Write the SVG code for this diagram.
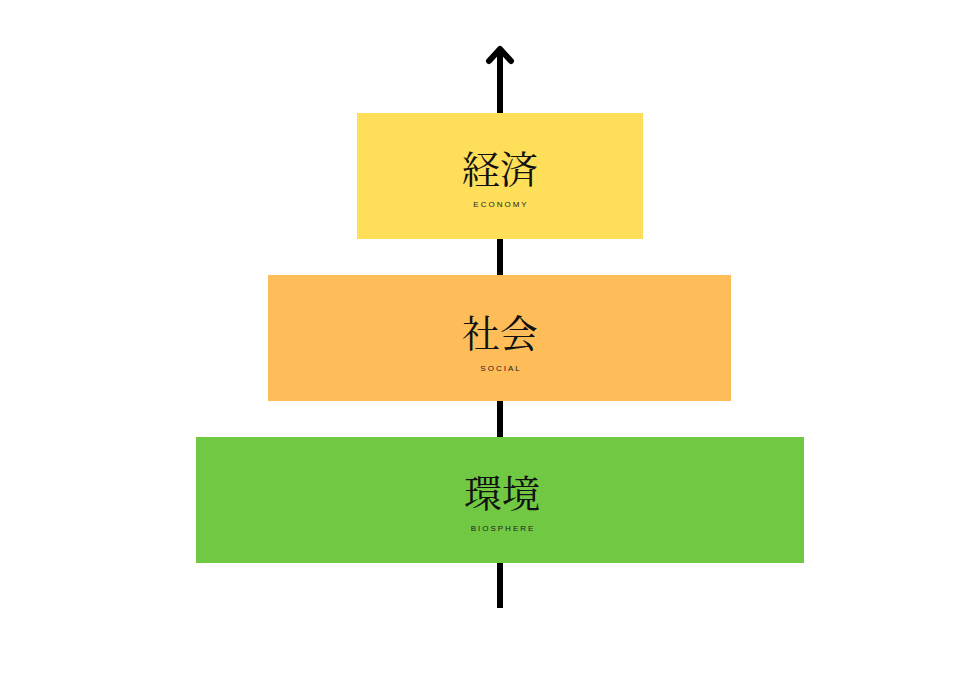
<svg xmlns="http://www.w3.org/2000/svg" width="956" height="677" viewBox="0 0 956 677">
<style>
.k{font-family:"Noto Serif CJK JP","Noto Sans CJK JP",serif;font-size:38px;fill:#111;text-anchor:middle}
.e{font-family:"Liberation Sans",sans-serif;font-size:8px;letter-spacing:2px;fill:#222;text-anchor:middle}
</style>
<rect width="956" height="677" fill="#fff"/>
<g id="connectors" stroke="#000" stroke-width="6" fill="none" stroke-linecap="round" stroke-linejoin="round">
<line x1="500" y1="608" x2="500" y2="50" stroke-linecap="butt"/>
<polyline points="489,61 500,49 511,61"/>
</g>
<g id="economy"><rect x="357" y="113" width="286" height="126" fill="#FFDE59"/>
<text class="k" x="500" y="183">経済</text><text class="e" x="501" y="207">ECONOMY</text></g>
<g id="social"><rect x="268" y="275" width="463" height="126" fill="#FFBD59"/>
<text class="k" x="500" y="347">社会</text><text class="e" x="501" y="371">SOCIAL</text></g>
<g id="biosphere"><rect x="196" y="437" width="608" height="126" fill="#71C943"/>
<text class="k" x="502" y="507">環境</text><text class="e" x="503" y="531">BIOSPHERE</text></g>
</svg>
